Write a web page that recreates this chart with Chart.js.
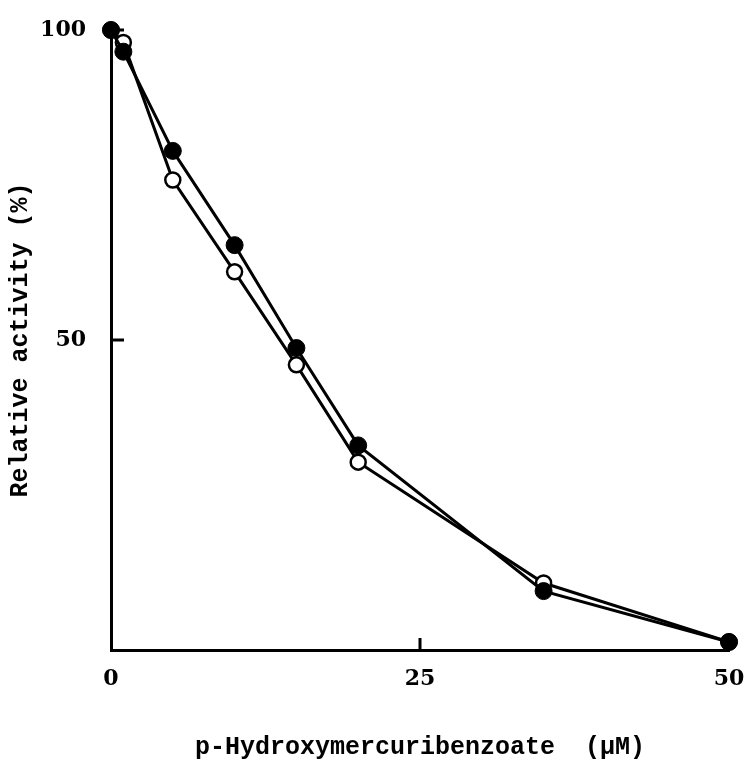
<!DOCTYPE html>
<html>
<head>
<meta charset="utf-8">
<script src="https://cdn.jsdelivr.net/npm/chart.js@4/dist/chart.umd.min.js"></script>
<style>
  body { margin: 0; background: #fff; }
  canvas { display: block; }
</style>
</head>
<body>
<canvas id="chart" width="747" height="760"></canvas>
<script>
// p-Hydroxymercuribenzoate concentration (uM)
const conc = [0, 1, 5, 10, 15, 20, 35, 50];
// relative activity (%) - filled and open circles
const filledActivity = [100, 96.5, 80.5, 65.3, 48.7, 33, 9.5, 1.3];
const openActivity = [100, 98, 75.8, 61, 46, 30.3, 10.8, 1.3];
const xTicks = [0, 25, 50];
const yTicks = [50, 100];

const toPoints = (ys) => conc.map((x, i) => ({ x: x, y: ys[i] }));

// small inward tick marks, like the printed figure
const inwardTicks = {
  id: "inwardTicks",
  afterDraw(chart) {
    const { ctx, scales } = chart;
    const xs = scales.x, ys = scales.y;
    ctx.save();
    ctx.strokeStyle = "#000";
    ctx.lineWidth = 3;
    ctx.beginPath();
    xTicks.filter((v) => v > 0 && v < 50).forEach((v) => {
      const px = xs.getPixelForValue(v);
      ctx.moveTo(px, ys.bottom);
      ctx.lineTo(px, ys.bottom - 12);
    });
    yTicks.forEach((v) => {
      const py = ys.getPixelForValue(v);
      ctx.moveTo(xs.left, py);
      ctx.lineTo(xs.left + 13, py);
    });
    ctx.stroke();
    ctx.restore();
  },
};

const tickFont = { family: "DejaVu Serif", size: 22, weight: "bold" };
const titleFont = { family: "Liberation Mono", size: 25, weight: "bold", lineHeight: 1 };

new Chart(document.getElementById("chart"), {
  type: "line",
  data: {
    datasets: [
      {
        label: "filled",
        data: toPoints(filledActivity),
        borderColor: "#000",
        borderWidth: 3,
        backgroundColor: "#000",
        pointRadius: 8.5,
        pointBorderWidth: 1,
        pointBackgroundColor: "#000",
        tension: 0,
        clip: false,
        order: 0,
      },
      {
        label: "open",
        data: toPoints(openActivity),
        borderColor: "#000",
        borderWidth: 3,
        pointRadius: 7.5,
        pointBorderWidth: 2.5,
        pointBackgroundColor: "#fff",
        tension: 0,
        clip: false,
        order: 1,
      },
    ],
  },
  options: {
    responsive: false,
    animation: false,
    layout: { padding: { top: 30, right: 18, bottom: 0, left: 0 } },
    plugins: { legend: { display: false }, tooltip: { enabled: false } },
    scales: {
      x: {
        type: "linear",
        min: 0,
        max: 50,
        afterFit: (scale) => {
          scale.height = 110;
          scale.paddingLeft = 0;
          scale.paddingRight = 0;
        },
        afterBuildTicks: (scale) => { scale.ticks = xTicks.map((v) => ({ value: v })); },
        border: { display: true, color: "#000", width: 3 },
        grid: { display: false, drawTicks: false },
        ticks: { color: "#000", font: tickFont, padding: 16, maxRotation: 0 },
        title: {
          display: true,
          text: "p-Hydroxymercuribenzoate  (\u03bcM)",
          color: "#000",
          font: titleFont,
          padding: { top: 0, bottom: 0 },
        },
      },
      y: {
        min: 0,
        max: 100,
        afterFit: (scale) => {
          scale.width = 111;
          scale.paddingTop = 0;
          scale.paddingBottom = 0;
        },
        afterBuildTicks: (scale) => { scale.ticks = yTicks.map((v) => ({ value: v })); },
        border: { display: true, color: "#000", width: 3 },
        grid: { display: false, drawTicks: false },
        ticks: { color: "#000", font: tickFont, padding: 25 },
        title: {
          display: true,
          text: "Relative activity (%)",
          color: "#000",
          font: titleFont,
          padding: { top: 8, bottom: 0 },
        },
      },
    },
  },
  plugins: [inwardTicks],
});
</script>
</body>
</html>
